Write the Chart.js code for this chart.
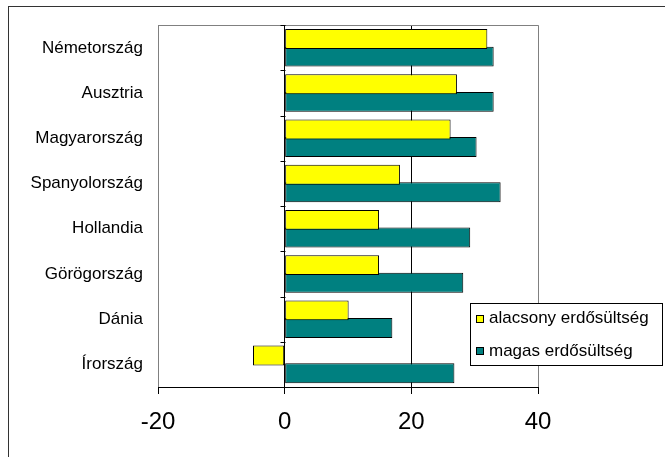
<!DOCTYPE html>
<html>
<head>
<meta charset="utf-8">
<script src="https://cdn.jsdelivr.net/npm/chart.js@4/dist/chart.umd.min.js"></script>
<style>
html,body{margin:0;padding:0;background:#fff}
#wrap{position:relative;width:665px;height:457px}
</style>
</head>
<body>
<div id="wrap"><canvas id="c"></canvas></div>
<script>
const categories = ['Németország','Ausztria','Magyarország','Spanyolország','Hollandia','Görögország','Dánia','Írország'];
const lowForest = [32, 27.2, 26.2, 18.2, 14.9, 14.9, 10.1, -5];
const highForest = [33, 33, 30.3, 34.1, 29.3, 28.2, 17, 26.8];
const seriesNames = ['alacsony erdősültség', 'magas erdősültség'];
const seriesColors = ['#FFFF00', '#008080'];
const xTicks = [-20, 0, 20, 40];

const FONT = "'Liberation Sans', Arial, sans-serif";

const decor = {
  id: 'decor',
  beforeDraw(chart) {
    const ctx = chart.ctx;
    ctx.save();
    ctx.fillStyle = '#fff';
    ctx.fillRect(0, 0, chart.width, chart.height);
    ctx.strokeStyle = '#333';
    ctx.lineWidth = 1;
    ctx.strokeRect(8.5, 6.5, chart.width + 20, chart.height + 20);
    ctx.restore();
  },
  beforeDatasetsDraw(chart) {
    const ctx = chart.ctx, a = chart.chartArea;
    const xs = chart.scales.x, ys = chart.scales.y;
    ctx.save();
    ctx.lineWidth = 1;
    ctx.strokeStyle = '#808080';
    ctx.beginPath();
    ctx.moveTo(a.left, Math.round(a.top) + 0.5);
    ctx.lineTo(a.right, Math.round(a.top) + 0.5);
    ctx.stroke();
    const x0 = Math.round(xs.getPixelForValue(0)) + 0.5;
    ctx.strokeStyle = '#000';
    ctx.beginPath();
    for (let i = 0; i <= categories.length; i++) {
      const y = Math.round(ys.getPixelForValue(i - 0.5)) + 0.5;
      ctx.moveTo(x0 - 5, y);
      ctx.lineTo(x0, y);
    }
    ctx.stroke();
    ctx.restore();
  },
  afterDraw(chart) {
    const ctx = chart.ctx;
    ctx.save();
    const bx = 470.5, by = 303.5, bw = 192, bh = 62;
    ctx.fillStyle = '#fff';
    ctx.fillRect(bx, by, bw, bh);
    ctx.strokeStyle = '#000';
    ctx.lineWidth = 1;
    ctx.strokeRect(bx, by, bw, bh);
    const rows = [318.5, 351];
    ctx.font = '17px ' + FONT;
    ctx.textBaseline = 'middle';
    ctx.textAlign = 'left';
    chart.data.datasets.forEach((ds, i) => {
      const cy = rows[i];
      ctx.fillStyle = ds.backgroundColor;
      ctx.fillRect(476.5, Math.round(cy - 4) + 0.5, 7, 7);
      ctx.strokeStyle = '#000';
      ctx.strokeRect(476.5, Math.round(cy - 4) + 0.5, 7, 7);
      ctx.fillStyle = '#000';
      ctx.fillText(ds.label, 489, cy);
    });
    ctx.restore();
  }
};

new Chart(document.getElementById('c'), {
  type: 'bar',
  data: {
    labels: categories,
    datasets: [
      { label: seriesNames[0], data: lowForest, backgroundColor: seriesColors[0], borderColor: '#000', borderWidth: 1, borderSkipped: false },
      { label: seriesNames[1], data: highForest, backgroundColor: seriesColors[1], borderColor: '#000', borderWidth: 1, borderSkipped: false }
    ]
  },
  options: {
    indexAxis: 'y',
    responsive: true,
    maintainAspectRatio: false,
    animation: false,
    events: [],
    categoryPercentage: 0.78,
    barPercentage: 1.13,
    layout: { padding: { left: 0, right: 127, top: 23, bottom: 0 } },
    plugins: { legend: { display: false }, tooltip: { enabled: false } },
    scales: {
      x: {
        type: 'linear',
        min: -20,
        max: 40,
        afterBuildTicks(scale) { scale.ticks = xTicks.map(v => ({ value: v })); },
        afterFit(scale) { scale.height = 70; },
        grid: {
          color: (c) => (c.tick && (c.tick.value === 0 || c.tick.value === 20)) ? '#000' : '#808080',
          tickColor: '#000',
          tickLength: 7,
          lineWidth: 1
        },
        border: { display: true, color: '#000', width: 1 },
        ticks: { color: '#000', font: { family: FONT, size: 24 }, padding: 14, maxRotation: 0 }
      },
      y: {
        type: 'category',
        afterFit(scale) { scale.width = 158; },
        grid: { display: false, drawTicks: false },
        border: { display: false },
        ticks: { color: '#000', font: { family: FONT, size: 17 }, padding: 15 }
      }
    }
  },
  plugins: [decor]
});
</script>
</body>
</html>
